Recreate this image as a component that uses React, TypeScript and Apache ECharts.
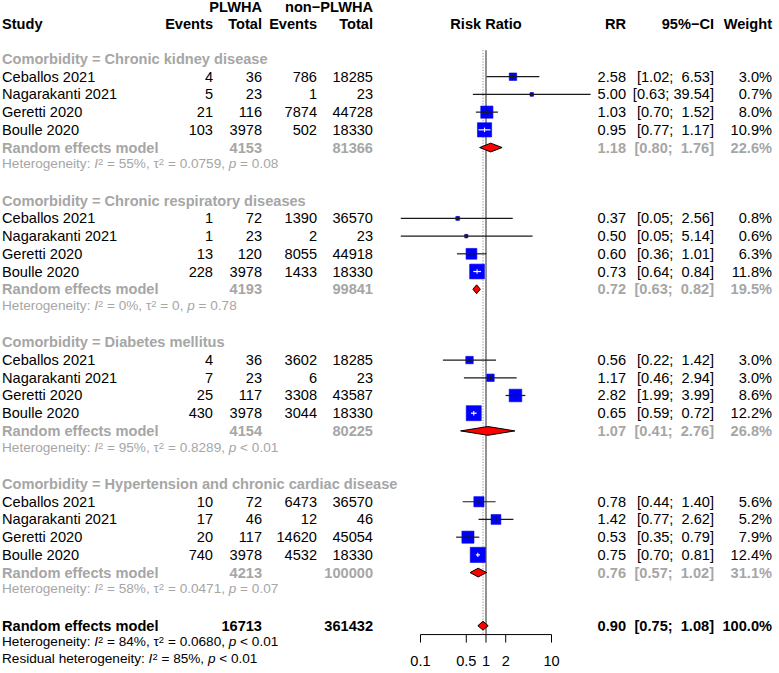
import React, { useEffect, useRef } from "react";
import * as echarts from "echarts";

// ---------------- data ----------------
const groups = [
  "Chronic kidney disease",
  "Chronic respiratory diseases",
  "Diabetes mellitus",
  "Hypertension and chronic cardiac disease",
];
const studies = ["Ceballos 2021", "Nagarakanti 2021", "Geretti 2020", "Boulle 2020"];
const plwhaEvents = [[4, 5, 21, 103], [1, 1, 13, 228], [4, 7, 25, 430], [10, 17, 20, 740]];
const plwhaTotal = [[36, 23, 116, 3978], [72, 23, 120, 3978], [36, 23, 117, 3978], [72, 46, 117, 3978]];
const nonEvents = [[786, 1, 7874, 502], [1390, 2, 8055, 1433], [3602, 6, 3308, 3044], [6473, 12, 14620, 4532]];
const nonTotal = [[18285, 23, 44728, 18330], [36570, 23, 44918, 18330], [18285, 23, 43587, 18330], [36570, 46, 45054, 18330]];
const rrValues = [[2.58, 5.0, 1.03, 0.95], [0.37, 0.5, 0.6, 0.73], [0.56, 1.17, 2.82, 0.65], [0.78, 1.42, 0.53, 0.75]];
const ciLower = [[1.02, 0.63, 0.7, 0.77], [0.05, 0.05, 0.36, 0.64], [0.22, 0.46, 1.99, 0.59], [0.44, 0.77, 0.35, 0.7]];
const ciUpper = [[6.53, 39.54, 1.52, 1.17], [2.56, 5.14, 1.01, 0.84], [1.42, 2.94, 3.99, 0.72], [1.4, 2.62, 0.79, 0.81]];
const weights = [[3.0, 0.7, 8.0, 10.9], [0.8, 0.6, 6.3, 11.8], [3.0, 3.0, 8.6, 12.2], [5.6, 5.2, 7.9, 12.4]];

const subPlwhaTotal = [4153, 4193, 4154, 4213];
const subNonTotal = [81366, 99841, 80225, 100000];
const subRR = [1.18, 0.72, 1.07, 0.76];
const subLower = [0.8, 0.63, 0.41, 0.57];
const subUpper = [1.76, 0.82, 2.76, 1.02];
const subWeight = [22.6, 19.5, 26.8, 31.1];
const subI2 = ["55%", "0%", "95%", "58%"];
const subTau2 = ["0.0759", "0", "0.8289", "0.0471"];
const subP = ["= 0.08", "= 0.78", "< 0.01", "= 0.07"];

const overallPlwhaTotal = 16713;
const overallNonTotal = 361432;
const overallRR = 0.9;
const overallLower = 0.75;
const overallUpper = 1.08;
const overallWeight = 100.0;
const overallI2 = "84%";
const overallTau2 = "0.0680";
const overallP = "< 0.01";
const residualI2 = "85%";
const residualP = "< 0.01";

const tickValues = [0.1, 0.5, 1, 2, 10];
const tickLabels = ["0.1", "0.5", "1", "2", "10"];

// ---------------- styling / layout ----------------
const FONT = "'Liberation Sans', Arial, Helvetica, sans-serif";
const FS = 14.6;
const HFS = 13.6;
const SFS = 9.5;
const GRAY = "#a6a6a6";
const BLACK = "#000000";
const COL = { study: 2, ev1: 213, tot1: 262, ev2: 317, tot2: 373, rrHead: 486, rr: 626, ci: 714, w: 772 };

type Cell = { text: string; x: number; align: "left" | "right" | "center"; bold?: boolean; color?: string; het?: boolean; lh?: number };
type Row = { row: number; cells: Cell[] };

const f2 = (v: number) => v.toFixed(2);
const ciText = (lo: number, hi: number) =>
  `[${f2(lo)};` + "\u00A0".repeat(1 + 5 - f2(hi).length) + `${f2(hi)}]`;
const wText = (w: number) => `${w.toFixed(1)}%`;

const hetRich = (label: string, i2: string, tau2: string | null, p: string) =>
  `{t|${label}: }{i|I}{s|2}{t| = ${i2}, }` +
  (tau2 !== null ? `{t|\u03c4}{s|2}{t| = ${tau2}, }` : "") +
  `{i|p}{t| ${p}}`;

const rows: Row[] = [];
rows.push({
  row: -2.92,
  cells: [
    { text: "PLWHA", x: COL.tot1, align: "right", bold: true, lh: 14.4 },
    { text: "non\u2212PLWHA", x: COL.tot2, align: "right", bold: true, lh: 14.4 },
  ],
});
rows.push({
  row: -2,
  cells: [
    { text: "Study", x: COL.study, align: "left", bold: true },
    { text: "Events", x: COL.ev1, align: "right", bold: true },
    { text: "Total", x: COL.tot1, align: "right", bold: true },
    { text: "Events", x: COL.ev2, align: "right", bold: true },
    { text: "Total", x: COL.tot2, align: "right", bold: true },
    { text: "Risk Ratio", x: COL.rrHead, align: "center", bold: true },
    { text: "RR", x: COL.rr, align: "right", bold: true },
    { text: "95%\u2212CI", x: COL.ci, align: "right", bold: true },
    { text: "Weight", x: COL.w, align: "right", bold: true },
  ],
});
groups.forEach((g, gi) => {
  const base = gi * 8;
  rows.push({ row: base, cells: [{ text: `Comorbidity = ${g}`, x: COL.study, align: "left", bold: true, color: GRAY }] });
  studies.forEach((s, si) => {
    rows.push({
      row: base + 1 + si,
      cells: [
        { text: s, x: COL.study, align: "left" },
        { text: String(plwhaEvents[gi][si]), x: COL.ev1, align: "right" },
        { text: String(plwhaTotal[gi][si]), x: COL.tot1, align: "right" },
        { text: String(nonEvents[gi][si]), x: COL.ev2, align: "right" },
        { text: String(nonTotal[gi][si]), x: COL.tot2, align: "right" },
        { text: f2(rrValues[gi][si]), x: COL.rr, align: "right" },
        { text: ciText(ciLower[gi][si], ciUpper[gi][si]), x: COL.ci, align: "right" },
        { text: wText(weights[gi][si]), x: COL.w, align: "right" },
      ],
    });
  });
  rows.push({
    row: base + 5,
    cells: [
      { text: "Random effects model", x: COL.study, align: "left", bold: true, color: GRAY },
      { text: String(subPlwhaTotal[gi]), x: COL.tot1, align: "right", bold: true, color: GRAY },
      { text: String(subNonTotal[gi]), x: COL.tot2, align: "right", bold: true, color: GRAY },
      { text: f2(subRR[gi]), x: COL.rr, align: "right", bold: true, color: GRAY },
      { text: ciText(subLower[gi], subUpper[gi]), x: COL.ci, align: "right", bold: true, color: GRAY },
      { text: wText(subWeight[gi]), x: COL.w, align: "right", bold: true, color: GRAY },
    ],
  });
  rows.push({
    row: base + 6,
    cells: [{ text: hetRich("Heterogeneity", subI2[gi], subTau2[gi], subP[gi]), x: COL.study, align: "left", color: GRAY, het: true }],
  });
});
rows.push({
  row: 32,
  cells: [
    { text: "Random effects model", x: COL.study, align: "left", bold: true },
    { text: String(overallPlwhaTotal), x: COL.tot1, align: "right", bold: true },
    { text: String(overallNonTotal), x: COL.tot2, align: "right", bold: true },
    { text: f2(overallRR), x: COL.rr, align: "right", bold: true },
    { text: ciText(overallLower, overallUpper), x: COL.ci, align: "right", bold: true },
    { text: wText(overallWeight), x: COL.w, align: "right", bold: true },
  ],
});
rows.push({ row: 33, cells: [{ text: hetRich("Heterogeneity", overallI2, overallTau2, overallP), x: COL.study, align: "left", het: true }] });
rows.push({ row: 33.93, cells: [{ text: hetRich("Residual heterogeneity", residualI2, null, residualP), x: COL.study, align: "left", het: true }] });

// marks data (built from arrays)
const studyMarks: number[][] = [];
groups.forEach((_, gi) =>
  studies.forEach((__, si) =>
    studyMarks.push([rrValues[gi][si], gi * 8 + 1 + si, ciLower[gi][si], ciUpper[gi][si], weights[gi][si]])
  )
);
const diamonds: number[][] = groups.map((_, gi) => [subRR[gi], gi * 8 + 5, subLower[gi], subUpper[gi]]);
diamonds.push([overallRR, 32, overallLower, overallUpper]);

const AXIS_ROW = 32.5;
const TOP_ROW = -0.5;

export default function App() {
  const ref = useRef<HTMLDivElement>(null);
  useEffect(() => {
    if (!ref.current) return;
    const chart = echarts.init(ref.current, undefined, { renderer: "svg" });
    const rowH = 17.71;
    const row0 = 59;
    const option: any = {
      animation: false,
      backgroundColor: "#ffffff",
      grid: { left: 355, width: 262, top: row0 - 3 * rowH, height: 37 * rowH, containLabel: false },
      xAxis: { type: "log", logBase: 10, min: 0.01, max: 100, show: false },
      yAxis: { type: "value", min: -3, max: 34, inverse: true, show: false },
      series: [
        {
          type: "custom",
          name: "refs",
          silent: true,
          data: [[1, TOP_ROW, AXIS_ROW, 0], [overallRR, TOP_ROW, AXIS_ROW, 1]],
          renderItem: (params: any, api: any) => {
            const v = api.value(0);
            const a = api.coord([v, api.value(1)]);
            const b = api.coord([v, api.value(2)]);
            const dotted = api.value(3) === 1;
            return {
              type: "line",
              shape: { x1: a[0], y1: a[1], x2: b[0], y2: b[1] },
              style: dotted
                ? { stroke: "#8c8c8c", lineWidth: 1, lineDash: [1.2, 1.6] }
                : { stroke: "#6e6e6e", lineWidth: 1.5 },
            };
          },
        },
        {
          type: "custom",
          name: "axis",
          silent: true,
          data: tickValues.map((v) => [v, AXIS_ROW]),
          renderItem: (params: any, api: any) => {
            const i = params.dataIndex;
            const p = api.coord([api.value(0), api.value(1)]);
            const children: any[] = [
              { type: "line", shape: { x1: p[0], y1: p[1], x2: p[0], y2: p[1] + 8 }, style: { stroke: BLACK, lineWidth: 1 } },
              {
                type: "text",
                x: p[0],
                y: p[1] + 26.5,
                style: { text: tickLabels[i], fill: BLACK, fontSize: FS, fontFamily: FONT, align: "center", verticalAlign: "middle" },
              },
            ];
            if (i === 0) {
              const q = api.coord([tickValues[tickValues.length - 1], api.value(1)]);
              children.push({ type: "line", shape: { x1: p[0], y1: p[1], x2: q[0], y2: q[1] }, style: { stroke: BLACK, lineWidth: 1 } });
            }
            return { type: "group", children };
          },
        },
        {
          type: "custom",
          name: "studies",
          silent: true,
          data: studyMarks,
          renderItem: (params: any, api: any) => {
            const est = api.value(0), row = api.value(1), lo = api.value(2), hi = api.value(3), w = api.value(4);
            const c = api.coord([est, row]);
            const pl = api.coord([lo, row]);
            const ph = api.coord([hi, row]);
            const side = 4.3 * Math.sqrt(w);
            const half = side / 2;
            const inside = pl[0] >= c[0] - half && ph[0] <= c[0] + half;
            const col = inside ? "#ffffff" : "#1a1a1a";
            return {
              type: "group",
              children: [
                { type: "rect", shape: { x: c[0] - half, y: c[1] - half, width: side, height: side }, style: { fill: "#0000ff", stroke: "#0000e0", lineWidth: 0.6 } },
                { type: "line", shape: { x1: pl[0], y1: c[1], x2: ph[0], y2: c[1] }, style: { stroke: col, lineWidth: 1.2 } },
                { type: "line", shape: { x1: c[0], y1: c[1] - 2.2, x2: c[0], y2: c[1] + 2.2 }, style: { stroke: col, lineWidth: 1.1 } },
              ],
            };
          },
        },
        {
          type: "custom",
          name: "diamonds",
          silent: true,
          data: diamonds,
          renderItem: (params: any, api: any) => {
            const row = api.value(1);
            const c = api.coord([api.value(0), row]);
            const pl = api.coord([api.value(2), row]);
            const ph = api.coord([api.value(3), row]);
            const hh = 4.4;
            return {
              type: "polygon",
              shape: { points: [[pl[0], c[1]], [c[0], c[1] - hh], [ph[0], c[1]], [c[0], c[1] + hh]] },
              style: { fill: "#ff0000", stroke: "#000000", lineWidth: 1 },
            };
          },
        },
        {
          type: "custom",
          name: "table",
          silent: true,
          data: rows.map((r) => [1, r.row]),
          renderItem: (params: any, api: any) => {
            const r = rows[params.dataIndex];
            const y = api.coord([1, api.value(1)])[1];
            const children = r.cells.map((cell) => {
              const fill = cell.color || BLACK;
              if (cell.het) {
                const baseTok = { fontSize: HFS, fontFamily: FONT, fill, color: fill, lineHeight: 14, verticalAlign: "bottom", padding: [3, 0, 0, 0] };
                return {
                  type: "text",
                  x: cell.x,
                  y: y - 1.5,
                  style: {
                    text: cell.text,
                    align: "left",
                    verticalAlign: "middle",
                    fill,
                    fontFamily: FONT,
                    fontSize: HFS,
                    rich: {
                      t: { ...baseTok },
                      i: { ...baseTok, fontStyle: "italic" },
                      s: { fontSize: SFS, fontFamily: FONT, fill, color: fill, lineHeight: 10, verticalAlign: "top" },
                    },
                  },
                };
              }
              const style: any = {
                text: cell.text,
                fill,
                fontSize: FS,
                fontFamily: FONT,
                fontWeight: cell.bold ? "bold" : "normal",
                align: cell.align,
                verticalAlign: "middle",
              };
              if (cell.lh) style.lineHeight = cell.lh;
              return { type: "text", x: cell.x, y, style };
            });
            return { type: "group", children };
          },
        },
      ],
    };
    chart.setOption(option);
    return () => chart.dispose();
  }, []);
  return (
    <div
      ref={ref}
      style={{ position: "absolute", left: 0, top: 0, width: 779, height: 673, background: "#fff" }}
    />
  );
}
